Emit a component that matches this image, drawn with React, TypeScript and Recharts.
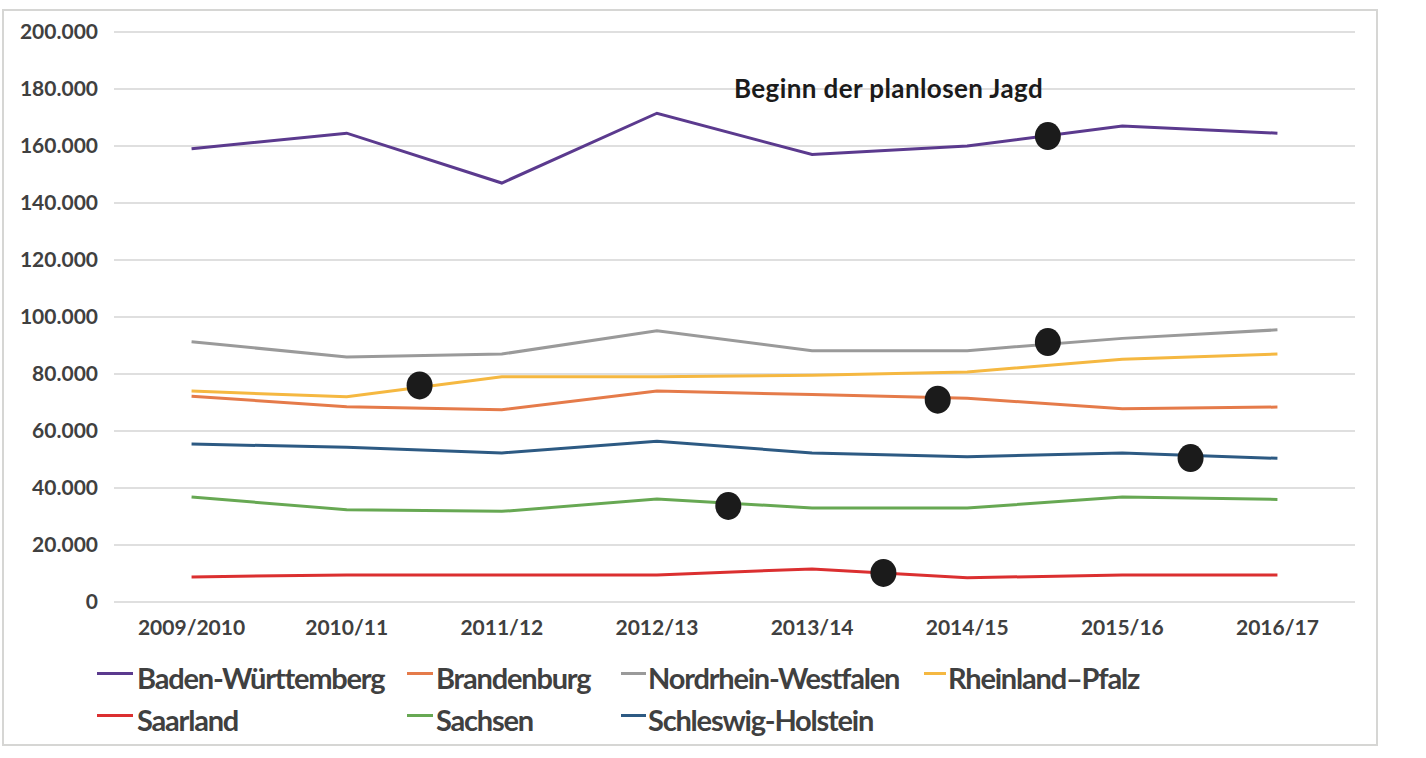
import React from 'react';
import { ComposedChart, Line, Scatter, XAxis, YAxis, CartesianGrid } from 'recharts';

// seasons on the x axis, values in hunted animals per state
const seasons = ['2009/2010', '2010/11', '2011/12', '2012/13', '2013/14', '2014/15', '2015/16', '2016/17'];
const yTicks = [0, 20000, 40000, 60000, 80000, 100000, 120000, 140000, 160000, 180000, 200000];

const badenWuerttemberg = [159000, 164500, 147000, 171500, 157000, 160000, 167000, 164500];
const brandenburg = [72200, 68500, 67500, 74000, 72800, 71500, 67800, 68400];
const nrw = [91300, 86000, 87000, 95200, 88200, 88200, 92500, 95500];
const rheinlandPfalz = [74000, 72000, 79000, 79000, 79600, 80700, 85200, 87000];
const saarland = [8800, 9500, 9500, 9500, 11600, 8500, 9500, 9500];
const sachsen = [36800, 32400, 31800, 36100, 33000, 33000, 36800, 36000];
const schleswigHolstein = [55400, 54300, 52300, 56400, 52300, 51000, 52300, 50400];

// black markers sitting between seasons
const markers = [
  { x: 1.47, y: 76000 },
  { x: 3.46, y: 33700 },
  { x: 4.46, y: 10200 },
  { x: 4.81, y: 71000 },
  { x: 5.52, y: 163500 },
  { x: 5.52, y: 91200 },
  { x: 6.44, y: 50500 },
];

const series = [
  { key: 'bw', name: 'Baden-Württemberg', color: '#5b3a8e', values: badenWuerttemberg },
  { key: 'bb', name: 'Brandenburg', color: '#e57b4a', values: brandenburg },
  { key: 'nrw', name: 'Nordrhein-Westfalen', color: '#9a9a9a', values: nrw },
  { key: 'rp', name: 'Rheinland–Pfalz', color: '#f5b841', values: rheinlandPfalz },
  { key: 'sl', name: 'Saarland', color: '#db2f30', values: saarland },
  { key: 'sn', name: 'Sachsen', color: '#67a853', values: sachsen },
  { key: 'sh', name: 'Schleswig-Holstein', color: '#2d5a83', values: schleswigHolstein },
];

const rows = seasons.map((s, i) => {
  const row: Record<string, number | string> = { x: i, season: s };
  series.forEach(se => { row[se.key] = se.values[i]; });
  return row;
});

const FONT = 'Lato, "Open Sans", sans-serif';
const TEXT = '#404040';

// legend slots: marker start, text start, row, marker width
const legendPos = [
  { m: 97, t: 137, r: 0, w: 36 },
  { m: 407, t: 436, r: 0, w: 26 },
  { m: 621, t: 648, r: 0, w: 25 },
  { m: 924, t: 948, r: 0, w: 22 },
  { m: 97, t: 137, r: 1, w: 36 },
  { m: 407, t: 436, r: 1, w: 26 },
  { m: 621, t: 648, r: 1, w: 25 },
];

const fmt = (v: number) => v === 0 ? '0' : v.toLocaleString('de-DE');

export default function App() {
  return (
    <div style={{ position: 'absolute', left: 0, top: 0, width: 1426, height: 758, background: '#fff', fontFamily: FONT }}>
      <div style={{ position: 'absolute', left: 2, top: 9, width: 1372, height: 733, border: '2px solid #d6d6d4' }} />
      <div style={{ position: 'absolute', left: 0, top: 0 }}>
        <ComposedChart width={1426} height={650} data={rows} margin={{ top: 32, right: 71, left: 0, bottom: 7 }}>
          <CartesianGrid vertical={false} stroke="#d4d4d4" strokeWidth={1.5} />
          <XAxis
            dataKey="x" type="number" domain={[-0.5, 7.5]} ticks={[0, 1, 2, 3, 4, 5, 6, 7]}
            tickFormatter={(v: number) => seasons[v] ?? ''}
            axisLine={false} tickLine={false} tickSize={0} tickMargin={18} height={41}
            tick={{ fill: TEXT, fontSize: 21, fontWeight: 700, fontFamily: FONT }}
            interval={0} allowDataOverflow
          />
          <YAxis
            type="number" domain={[0, 200000]} ticks={yTicks} tickFormatter={fmt}
            axisLine={false} tickLine={false} tickSize={0} tickMargin={16} width={114}
            tick={{ fill: TEXT, fontSize: 21, fontWeight: 700, fontFamily: FONT }}
          />
          {series.map(se => (
            <Line key={se.key} dataKey={se.key} name={se.name} type="linear" stroke={se.color}
              strokeWidth={3} dot={false} activeDot={false} isAnimationActive={false} />
          ))}
          <Scatter data={markers} dataKey="y" isAnimationActive={false}
            shape={(p: any) => <ellipse cx={p.cx} cy={p.cy} rx={13} ry={14} fill="#1b1b1b" />} />
        </ComposedChart>
      </div>
      <div style={{ position: 'absolute', left: 734, top: 73, fontSize: 26, lineHeight: '30px', letterSpacing: 0.4, fontWeight: 700, color: '#1b1b1b', whiteSpace: 'nowrap' }}>
        Beginn der planlosen Jagd
      </div>
      {series.map((se, i) => {
        const p = legendPos[i];
        const base = p.r === 0 ? 0 : 42;
        return (
          <React.Fragment key={se.key}>
            <div style={{ position: 'absolute', left: p.m, top: 672 + base, width: p.w, height: 3, background: se.color }} />
            <div style={{ position: 'absolute', left: p.t, top: 663 + base, fontSize: 29, letterSpacing: -1.2, fontWeight: 700, color: TEXT, whiteSpace: 'nowrap', lineHeight: '30px' }}>
              {se.name}
            </div>
          </React.Fragment>
        );
      })}
    </div>
  );
}
